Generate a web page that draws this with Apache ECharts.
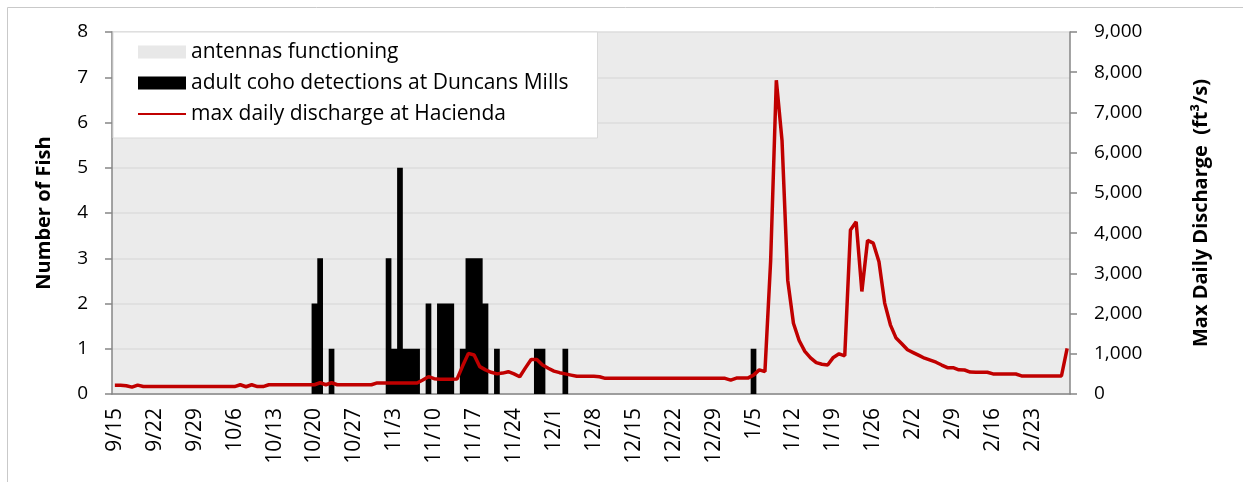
<!DOCTYPE html>
<html>
<head>
<meta charset="utf-8">
<script src="https://cdn.jsdelivr.net/npm/echarts@6/dist/echarts.min.js"></script>
<style>
  html, body { margin: 0; padding: 0; background: #fff; }
  #main { width: 1243px; height: 482px; }
</style>
</head>
<body>
<div id="main"></div>
<script>
// ---- data ----
// one category per day, 9/15 .. 3/1
var startDate = Date.UTC(2014, 8, 15);
var dayCount = 168;
var days = [];
for (var i = 0; i < dayCount; i++) {
  var d = new Date(startDate + i * 86400000);
  days.push((d.getUTCMonth() + 1) + '/' + d.getUTCDate());
}

// adult coho detections at Duncans Mills (only days with fish)
var detectionDates  = ['10/20', '10/21', '10/23', '11/2', '11/3', '11/4', '11/5', '11/6', '11/7', '11/9',
                       '11/11', '11/12', '11/13', '11/15', '11/16', '11/17', '11/18', '11/19', '11/21',
                       '11/28', '11/29', '12/3', '1/5'];
var detectionCounts = [2, 3, 1, 3, 1, 5, 1, 1, 1, 2,
                       2, 2, 2, 1, 3, 3, 3, 2, 1,
                       1, 1, 1, 1];

// max daily discharge at Hacienda (ft3/s), one value per day from 9/15
var discharge = [
  220, 220, 205, 170, 220, 185, 185, 185, 185, 185,
  185, 185, 185, 185, 185, 185, 185, 185, 185, 185,
  185, 185, 230, 180, 230, 185, 185, 230, 230, 230,
  230, 230, 230, 230, 230, 230, 280, 230, 280, 230,
  230, 230, 230, 230, 230, 230, 275, 275, 275, 275,
  275, 275, 275, 275, 350, 430, 380, 365, 365, 365,
  370, 700, 1010, 970, 680, 600, 540, 500, 520, 555,
  500, 430, 650, 860, 860, 720, 640, 570, 530, 500,
  470, 440, 440, 440, 440, 430, 390, 390, 390, 390,
  390, 390, 390, 390, 390, 390, 390, 390, 390, 390,
  390, 390, 390, 390, 390, 390, 390, 390, 345, 395,
  395, 395, 470, 600, 555, 3300, 7800, 6300, 2830, 1760,
  1330, 1060, 900, 780, 740, 720, 910, 1000, 950, 4080,
  4280, 2550, 3820, 3750, 3290, 2260, 1720, 1390, 1250, 1100,
  1030, 960, 890, 840, 790, 720, 655, 655, 600, 597,
  545, 540, 540, 540, 500, 497, 497, 497, 497, 450,
  447, 447, 447, 447, 447, 447, 447, 1136
];

// left / right axis ranges
var fishMax = 8, fishStep = 1;
var flowMax = 9000, flowStep = 1000;

var detections = days.map(function (d) {
  var k = detectionDates.indexOf(d);
  return k >= 0 ? detectionCounts[k] : 0;
});

var font = 'Open Sans';
var myChart = echarts.init(document.getElementById('main'));

var option = {
  animation: false,
  textStyle: { fontFamily: font, color: '#000' },
  graphic: [{
    type: 'rect',
    left: 5, top: 5,
    shape: { width: 1236, height: 500 },
    style: { fill: 'none', stroke: '#c9c9c9', lineWidth: 1 },
    silent: true
  }],
  grid: {
    left: 112, right: 173, top: 32, bottom: 88,
    show: true, backgroundColor: '#ebebeb', borderWidth: 0
  },
  legend: {
    left: 113, top: 32,
    orient: 'vertical',
    itemWidth: 48, itemHeight: 13, itemGap: 9,
    padding: [9, 29, 13, 24],
    backgroundColor: '#fff',
    borderColor: '#d9d9d9', borderWidth: 1,
    textStyle: { fontFamily: font, fontSize: 21, color: '#000', lineHeight: 22 },
    data: [
      { name: 'antennas functioning', icon: 'rect' },
      { name: 'adult coho detections at Duncans Mills', icon: 'rect' },
      { name: 'max daily discharge at Hacienda', itemStyle: { opacity: 0 } }
    ]
  },
  xAxis: {
    type: 'category',
    data: days,
    boundaryGap: true,
    axisLine: { lineStyle: { color: '#868686', width: 1.5 } },
    axisTick: { interval: 6, length: 7, lineStyle: { color: '#868686', width: 1.5 } },
    axisLabel: { interval: 6, rotate: 90, margin: 14, fontSize: 21, color: '#000', fontFamily: font },
    splitLine: { show: false }
  },
  yAxis: [{
    type: 'value',
    min: 0, max: fishMax, interval: fishStep,
    name: 'Number of Fish',
    nameLocation: 'middle', nameRotate: 90, nameGap: 58,
    nameTextStyle: { fontSize: 20, fontWeight: 'bold', color: '#000', fontFamily: font },
    axisLine: { show: true, lineStyle: { color: '#868686', width: 1.5 } },
    axisTick: { show: true, length: 7, lineStyle: { color: '#868686', width: 1.5 } },
    axisLabel: { margin: 24, fontSize: 19, color: '#000', fontFamily: font },
    splitLine: { show: true, lineStyle: { color: '#dcdcdc', width: 1.5 } }
  }, {
    type: 'value',
    position: 'right',
    min: 0, max: flowMax, interval: flowStep,
    name: 'Max Daily Discharge  (ft\u00b3/s)',
    nameLocation: 'middle', nameRotate: 90, nameGap: 121,
    nameTextStyle: { fontSize: 20, fontWeight: 'bold', color: '#000', fontFamily: font },
    axisLine: { show: true, lineStyle: { color: '#868686', width: 1.5 } },
    axisTick: { show: true, length: 7, lineStyle: { color: '#868686', width: 1.5 } },
    axisLabel: {
      margin: 24, fontSize: 19, color: '#000', fontFamily: font,
      formatter: function (v) { return v.toLocaleString('en-US'); }
    },
    splitLine: { show: false }
  }],
  series: [{
    // shown only in the legend: antennas worked over the whole period (grid background)
    name: 'antennas functioning',
    type: 'line',
    data: [],
    itemStyle: { color: '#e8e8e8' }
  }, {
    // daily counts drawn as touching columns (step area avoids seams between bars)
    name: 'adult coho detections at Duncans Mills',
    type: 'line',
    data: detections,
    step: 'middle',
    symbol: 'none',
    lineStyle: { width: 0, color: '#000' },
    areaStyle: { color: '#000', opacity: 1 },
    itemStyle: { color: '#000' },
    z: 3
  }, {
    name: 'max daily discharge at Hacienda',
    type: 'line',
    yAxisIndex: 1,
    data: discharge,
    symbol: 'none',
    lineStyle: { color: '#c00000', width: 3.5 },
    itemStyle: { color: '#c00000' },
    z: 5
  }]
};

myChart.setOption(option);
</script>
</body>
</html>
